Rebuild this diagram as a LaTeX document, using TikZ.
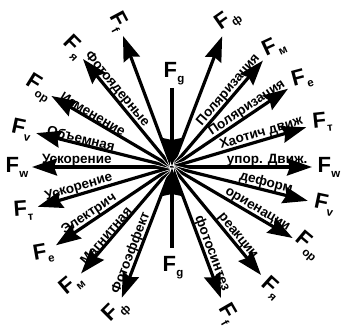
\documentclass[tikz,border=0pt]{standalone}
\usepackage{fontspec}
\setmainfont{Liberation Sans}
\usetikzlibrary{arrows.meta}
\newcommand{\Fsub}[1]{F\kern0.3pt\raisebox{-5pt}{\fontsize{11.5}{11.5}\selectfont #1}}
\begin{document}
\begin{tikzpicture}[x=1pt,y=1pt,
  arr/.style={line width=3.2pt, preaction={draw=white,line width=4.6pt,arrows=-},
    -{Stealth[length=25pt,width=17pt,inset=3pt]}},
  garr/.style={line width=3.2pt, preaction={draw=white,line width=4.6pt,arrows=-},
    -{Stealth[length=28pt,width=21pt,inset=2pt]}},
  flab/.style={font=\fontsize{22}{22}\selectfont\bfseries, inner sep=0pt},
  wlab/.style={font=\fontsize{13.5}{13.5}\selectfont\bfseries, inner sep=0.8pt, sloped, above, pos=0.68},
]
\useasboundingbox (-172,-159) rectangle (171,167);
\coordinate (O) at (0,0);
% right-hand arrows: angle / subscript / name / label rotation
\foreach \a/\s/\nm/\r in {69/ф/r1/35, 49.5/м/r2/25, 34/e/r3/15, 16.5/т/r4/6, 0/w/r5/0, -14/v/r6/-12, -30.5/op/r7/-40, -50.5/я/r8/-42, -69.5/f/r9/-60} {
  \coordinate (t\nm) at (\a:140);
  \draw[arr] (O) -- (t\nm);
  \node[flab, rotate=\r] (L\nm) at (\a:157) {\Fsub{\s}};
}
% left-hand arrows
\foreach \a/\s/\nm/\r in {249/ф/l1/45, 229.5/м/l2/40, 214/e/l3/10, 196.5/т/l4/4, 180/w/l5/0, 166/v/l6/-12, 149.5/op/l7/-32, 129.5/я/l8/-45, 110.5/f/l9/-62} {
  \coordinate (t\nm) at (\a:140);
  \draw[arr] (O) -- (t\nm);
  \node[flab, rotate=\r] (L\nm) at (\a:155) {\Fsub{\s}};
}
% word labels
\path (O) -- (tr2) node[wlab] (w1) {Поляризация};
\path (O) -- (tr3) node[wlab] (w2) {Поляризация};
\path (O) -- (tr4) node[wlab] (w3) {Хаотич движ};
\path (O) -- (tr5) node[wlab] (w4) {упор. Движ.};
\path (O) -- (tr6) node[wlab] (w5) {деформ};
\path (O) -- (tr7) node[wlab] (w6) {ориенации};
\path (O) -- (tr8) node[wlab] (w7) {реакции};
\path (O) -- (tr9) node[wlab] (w8) {фотосинтез};
\path (O) -- (tl8) node[wlab] (w9) {Фотоядерные};
\path (O) -- (tl7) node[wlab] (w10) {Изменение};
\path (O) -- (tl6) node[wlab] (w11) {Объемная};
\path (O) -- (tl5) node[wlab] (w12) {Ускорение};
\path (O) -- (tl4) node[wlab] (w13) {Ускорение};
\path (O) -- (tl3) node[wlab] (w14) {Электрич};
\path (O) -- (tl2) node[wlab] (w15) {Магнитная};
\path (O) -- (tl1) node[wlab] (w16) {Фотоэффект};
% vertical gravity arrows
\node[flab] (gtop) at (2,93) {\Fsub{g}};
\node[flab] (gbot) at (1,-101) {\Fsub{g}};
\coordinate (gs1) at (0,79);
\coordinate (gs2) at (0,-81);
\coordinate (ge1) at (0,1);
\coordinate (ge2) at (0,-1);
\draw[garr] (gs1) -- (ge1);
\draw[garr] (gs2) -- (ge2);
\end{tikzpicture}
\end{document}
